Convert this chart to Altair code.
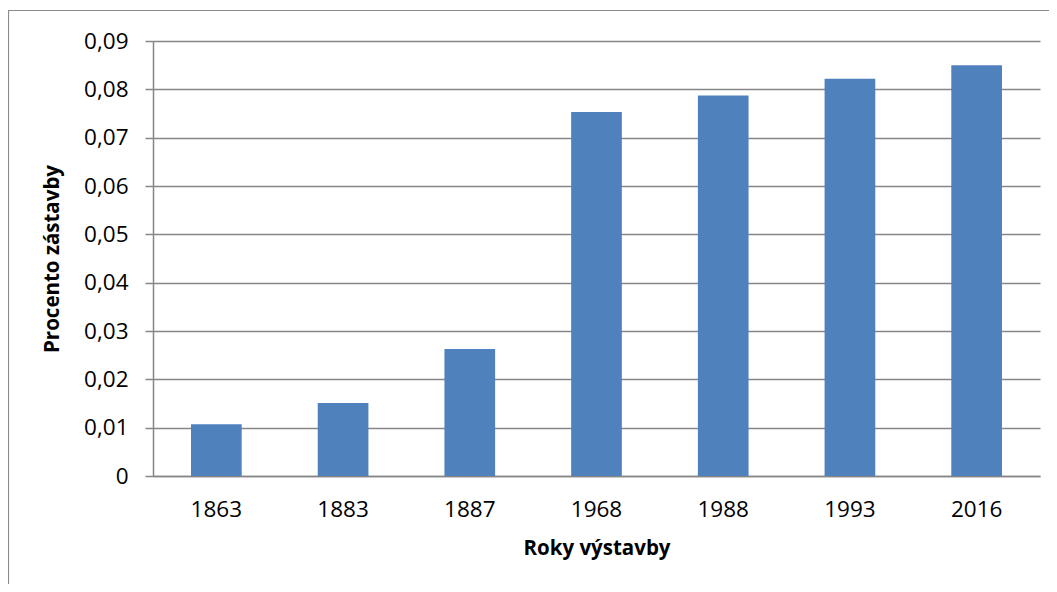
import altair as alt
import pandas as pd

years = ["1863", "1883", "1887", "1968", "1988", "1993", "2016"]
values = [0.0107, 0.0151, 0.0263, 0.0753, 0.0787, 0.0822, 0.0850]
y_ticks = [0, 0.01, 0.02, 0.03, 0.04, 0.05, 0.06, 0.07, 0.08, 0.09]

df = pd.DataFrame({"rok": years, "procento": values})

FONT = "Open Sans"
GRID = "#868686"

bars = alt.Chart(df).mark_bar(color="#4F81BD").encode(
    x=alt.X(
        "rok:N",
        sort=years,
        scale=alt.Scale(paddingInner=0.6, paddingOuter=0.3),
        axis=alt.Axis(
            title="Roky výstavby",
            labelAngle=0,
            labelFont=FONT,
            labelFontSize=22.5,
            labelColor="#000000",
            labelPadding=22,
            ticks=False,
            domainColor=GRID,
            domainWidth=1.5,
            titleFont=FONT,
            titleFontSize=20.5,
            titleFontWeight="bold",
            titleColor="#000000",
            titleX=443.5,
            titleY=78,
            titleBaseline="alphabetic",
        ),
    ),
    y=alt.Y(
        "procento:Q",
        scale=alt.Scale(domain=[0, 0.09], nice=False),
        axis=alt.Axis(
            title="Procento zástavby",
            values=y_ticks,
            labelExpr="datum.value == 0 ? '0' : replace(format(datum.value, '.2f'), '.', ',')",
            labelFont=FONT,
            labelFontSize=22.5,
            labelColor="#000000",
            labelPadding=17,
            tickSize=8,
            tickColor=GRID,
            tickWidth=1.5,
            domainColor=GRID,
            domainWidth=1.5,
            grid=True,
            gridColor=GRID,
            gridWidth=1.5,
            titleFont=FONT,
            titleFontSize=20.5,
            titleFontWeight="bold",
            titleColor="#000000",
            titleAngle=-90,
            titleX=-95,
            titleY=217.5,
            titleBaseline="alphabetic",
        ),
    ),
)

border = alt.Chart(pd.DataFrame({"a": [0]})).mark_rect(
    fill="transparent", stroke="#8C8C8C", strokeWidth=1.2
).encode(
    x=alt.value(-144.5),
    x2=alt.value(960),
    y=alt.value(-30.5),
    y2=alt.value(700),
)

chart = alt.layer(border, bars).properties(
    width=887,
    height=435,
    padding={"left": 145, "top": 33, "right": 9, "bottom": 108},
    autosize=alt.AutoSizeParams(type="none"),
    background="white",
).configure_view(stroke="transparent")

chart.save("out.html", embed_options={"renderer": "svg", "actions": False})
